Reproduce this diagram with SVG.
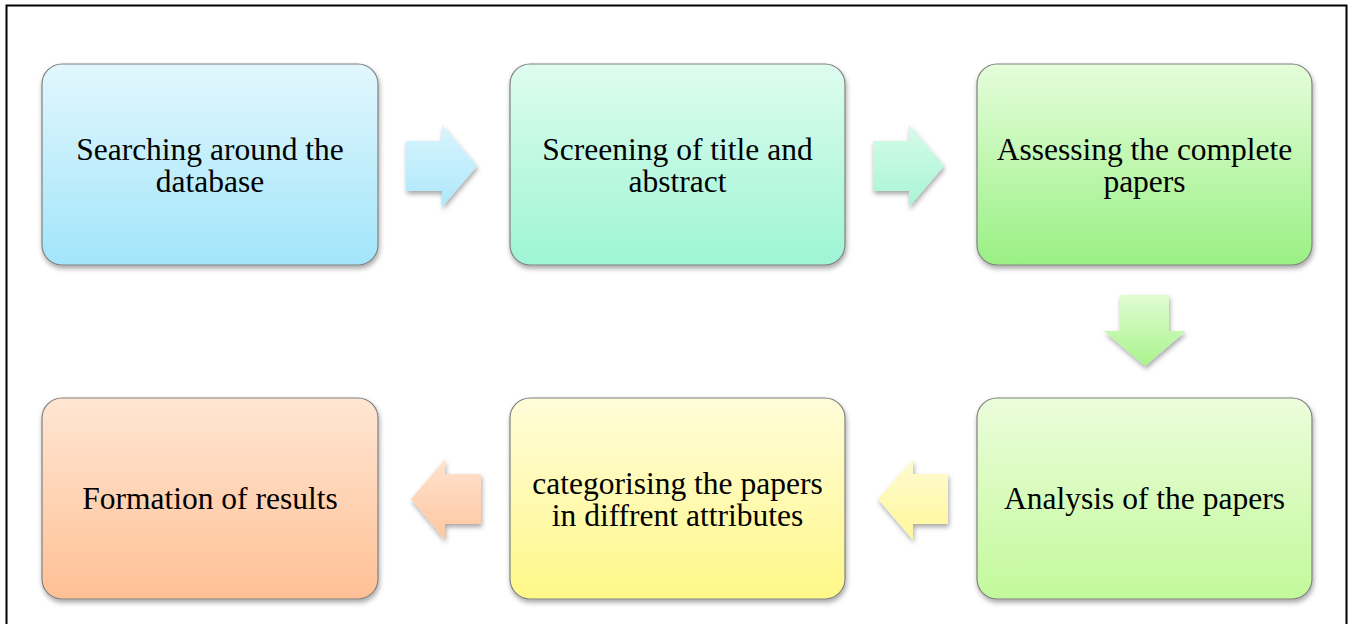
<svg xmlns="http://www.w3.org/2000/svg" width="1351" height="624" viewBox="0 0 1351 624">
<defs>
<style>
.box{stroke:#808080;stroke-width:1.2;filter:url(#sh)}
.arr{filter:url(#sh)}
.t{font-family:"Liberation Serif","Times New Roman",serif;font-size:31.5px;fill:#000;text-anchor:middle}
</style>
<filter id="sh" x="-20%" y="-20%" width="140%" height="140%">
<feDropShadow dx="1" dy="3" stdDeviation="2.5" flood-color="#000" flood-opacity="0.35"/>
</filter>
<linearGradient id="g1" x1="0" y1="0" x2="0" y2="1"><stop offset="0" stop-color="#e2f7fd"/><stop offset="1" stop-color="#a2e5fa"/></linearGradient>
<linearGradient id="g2" x1="0" y1="0" x2="0" y2="1"><stop offset="0" stop-color="#defcef"/><stop offset="1" stop-color="#9ef5d5"/></linearGradient>
<linearGradient id="g3" x1="0" y1="0" x2="0" y2="1"><stop offset="0" stop-color="#e5fddb"/><stop offset="1" stop-color="#9af084"/></linearGradient>
<linearGradient id="g4" x1="0" y1="0" x2="0" y2="1"><stop offset="0" stop-color="#ebfddb"/><stop offset="1" stop-color="#c3f99b"/></linearGradient>
<linearGradient id="g5" x1="0" y1="0" x2="0" y2="1"><stop offset="0" stop-color="#fffcda"/><stop offset="1" stop-color="#fff888"/></linearGradient>
<linearGradient id="g6" x1="0" y1="0" x2="0" y2="1"><stop offset="0" stop-color="#ffe6d3"/><stop offset="1" stop-color="#ffc095"/></linearGradient>
<linearGradient id="a1" x1="0" y1="0" x2="0" y2="1"><stop offset="0" stop-color="#d8f4fd"/><stop offset="1" stop-color="#aee8fb"/></linearGradient>
<linearGradient id="a2" x1="0" y1="0" x2="0" y2="1"><stop offset="0" stop-color="#d5fbe9"/><stop offset="1" stop-color="#a8f5d6"/></linearGradient>
<linearGradient id="a3" x1="0" y1="0" x2="0" y2="1"><stop offset="0" stop-color="#e0fcd3"/><stop offset="1" stop-color="#a8f48c"/></linearGradient>
<linearGradient id="a4" x1="0" y1="0" x2="0" y2="1"><stop offset="0" stop-color="#fffbd2"/><stop offset="1" stop-color="#fff79a"/></linearGradient>
<linearGradient id="a5" x1="0" y1="0" x2="0" y2="1"><stop offset="0" stop-color="#ffe3cf"/><stop offset="1" stop-color="#ffc6a0"/></linearGradient>
</defs>
<rect x="0" y="0" width="1351" height="624" fill="#fff"/>
<path d="M6.5 624V5.5H1346.5V624" fill="none" stroke="#000" stroke-width="2"/>

<g id="connectors">
<polygon class="arr" fill="url(#a1)" points="406,141 442,141 442,125 477,166 442,207 442,191 406,191"/>
<polygon class="arr" fill="url(#a2)" points="873,141 909,141 909,125 944,166 909,207 909,191 873,191"/>
<polygon class="arr" fill="url(#a3)" points="1120,295 1169,295 1169,331 1186,331 1145,366 1104,331 1120,331"/>
<polygon class="arr" fill="url(#a4)" points="948,474 913,474 913,459 878,499 913,540 913,524 948,524"/>
<polygon class="arr" fill="url(#a5)" points="481,474 445,474 445,459 411,499 445,540 445,524 481,524"/>
</g>

<g id="n1">
<rect class="box" x="42" y="64" width="336" height="201" rx="20" fill="url(#g1)"/>
<text class="t" font-family="Liberation Serif, serif" x="210" y="160">Searching around the</text>
<text class="t" font-family="Liberation Serif, serif" x="210" y="192">database</text>
</g>
<g id="n2">
<rect class="box" x="510" y="64" width="335" height="201" rx="20" fill="url(#g2)"/>
<text class="t" font-family="Liberation Serif, serif" x="677.5" y="160">Screening of title and</text>
<text class="t" font-family="Liberation Serif, serif" x="677.5" y="192">abstract</text>
</g>
<g id="n3">
<rect class="box" x="977" y="64" width="335" height="201" rx="20" fill="url(#g3)"/>
<text class="t" font-family="Liberation Serif, serif" x="1144.5" y="160">Assessing the complete</text>
<text class="t" font-family="Liberation Serif, serif" x="1144.5" y="192">papers</text>
</g>
<g id="n4">
<rect class="box" x="977" y="398" width="335" height="201" rx="20" fill="url(#g4)"/>
<text class="t" font-family="Liberation Serif, serif" x="1144.5" y="509">Analysis of the papers</text>
</g>
<g id="n5">
<rect class="box" x="510" y="398" width="335" height="201" rx="20" fill="url(#g5)"/>
<text class="t" font-family="Liberation Serif, serif" x="677.5" y="494">categorising the papers</text>
<text class="t" font-family="Liberation Serif, serif" x="677.5" y="526">in diffrent attributes</text>
</g>
<g id="n6">
<rect class="box" x="42" y="398" width="336" height="201" rx="20" fill="url(#g6)"/>
<text class="t" font-family="Liberation Serif, serif" x="210" y="509">Formation of results</text>
</g>
</svg>
